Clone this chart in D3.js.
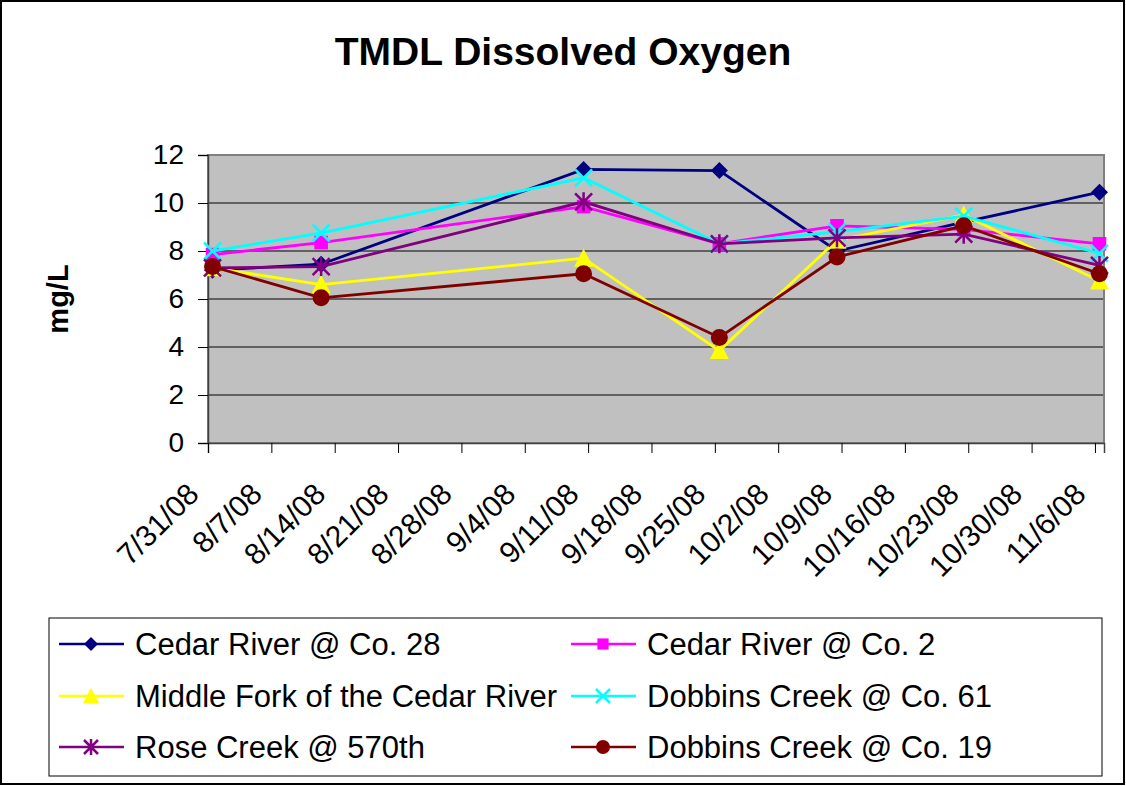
<!DOCTYPE html>
<html>
<head>
<meta charset="utf-8">
<script src="https://cdn.jsdelivr.net/npm/d3@7"></script>
<style>
  body { margin: 0; background: #fff; }
  text { font-family: "Liberation Sans", Arial, sans-serif; }
</style>
</head>
<body>
<svg id="chart" width="1126" height="786"></svg>
<script>
// sample dates and dissolved oxygen readings (mg/L)
const sampleDates = ["2008-07-31", "2008-08-12", "2008-09-10", "2008-09-25", "2008-10-08", "2008-10-22", "2008-11-06"];
const cedarCo28   = [7.2, 7.45, 11.4, 11.35, 8.0, 9.2, 10.45];
const cedarCo2    = [7.85, 8.35, 9.85, 8.3, 9.05, 8.9, 8.3];
const middleFork  = [7.3, 6.6, 7.7, 3.85, 8.45, 9.5, 6.75];
const dobbins61   = [8.0, 8.75, 11.05, 8.3, 8.8, 9.45, 7.9];
const rose570     = [7.3, 7.35, 10.05, 8.3, 8.55, 8.7, 7.4];
const dobbins19   = [7.35, 6.05, 7.05, 4.4, 7.75, 9.05, 7.05];

const seriesNames = ["Cedar River @ Co. 28", "Cedar River @ Co. 2", "Middle Fork of the Cedar River",
                     "Dobbins Creek @ Co. 61", "Rose Creek @ 570th", "Dobbins Creek @ Co. 19"];
const xTickDates = ["2008-07-31", "2008-08-07", "2008-08-14", "2008-08-21", "2008-08-28", "2008-09-04",
                    "2008-09-11", "2008-09-18", "2008-09-25", "2008-10-02", "2008-10-09", "2008-10-16",
                    "2008-10-23", "2008-10-30", "2008-11-06"];
const yTicks = [0, 2, 4, 6, 8, 10, 12];

const colors  = ["#000080", "#ff00ff", "#ffff00", "#00ffff", "#800080", "#800000"];
const markers = ["diamond", "square", "triangle", "x", "star", "circle"];

const parse = d3.utcParse("%Y-%m-%d");
const fmt = d3.utcFormat("%-m/%-d/%y");

const series = [cedarCo28, cedarCo2, middleFork, dobbins61, rose570, dobbins19].map((vals, i) => ({
  name: seriesNames[i],
  color: colors[i],
  marker: markers[i],
  points: vals.map((v, j) => ({ date: parse(sampleDates[j]), value: v }))
}));

const svg = d3.select("#chart");
const W = 1126, H = 786;
const plot = { left: 208, right: 1104, top: 155, bottom: 443 };

// outer border
svg.append("rect").attr("x", 1).attr("y", 1).attr("width", W - 3).attr("height", H - 3)
  .attr("fill", "#fff").attr("stroke", "#000").attr("stroke-width", 2);

// title
svg.append("text").attr("x", 563).attr("y", 65).attr("text-anchor", "middle")
  .attr("font-size", 39).attr("font-weight", "bold").text("TMDL Dissolved Oxygen");

const x = d3.scaleUtc()
  .domain([parse("2008-07-31"), parse("2008-11-07")])
  .range([plot.left, plot.right]);
const y = d3.scaleLinear().domain([0, 12]).range([plot.bottom, plot.top]);

// excel puts date points in the middle of their day
const px = d => x(d3.utcHour.offset(d, 12));

// plot area
svg.append("rect").attr("x", plot.left).attr("y", plot.top)
  .attr("width", plot.right - plot.left).attr("height", plot.bottom - plot.top)
  .attr("fill", "#c0c0c0").attr("stroke", "#808080").attr("stroke-width", 2);

// gridlines
svg.append("g").selectAll("line").data(yTicks.slice(1, -1)).enter().append("line")
  .attr("x1", plot.left).attr("x2", plot.right - 1)
  .attr("y1", d => y(d)).attr("y2", d => y(d))
  .attr("stroke", "#000").attr("stroke-width", 1);

// y axis
const yAxis = svg.append("g").attr("transform", `translate(${plot.left},0)`)
  .call(d3.axisLeft(y).tickValues(yTicks).tickSize(10).tickPadding(14));
yAxis.select(".domain").attr("stroke", "#404040").attr("stroke-width", 1.5);
yAxis.selectAll(".tick line").attr("stroke", "#000");
yAxis.selectAll("text").attr("font-size", 28).attr("fill", "#000")
  .attr("font-family", "Liberation Sans, Arial, sans-serif");

// x axis
const xAxis = svg.append("g").attr("transform", `translate(0,${plot.bottom})`)
  .call(d3.axisBottom(x).tickValues(xTickDates.map(parse)).tickFormat(fmt).tickSize(10));
xAxis.select(".domain").attr("stroke", "#404040").attr("stroke-width", 1.5);
xAxis.selectAll(".tick line").attr("stroke", "#000");
xAxis.selectAll("text")
  .attr("font-size", 30).attr("fill", "#000")
  .attr("font-family", "Liberation Sans, Arial, sans-serif")
  .attr("text-anchor", "end")
  .attr("dy", 0).attr("y", 0)
  .attr("transform", "translate(-8,53) rotate(-45)");

// y label
svg.append("text").attr("transform", "translate(68,299) rotate(-90)")
  .attr("text-anchor", "middle").attr("font-size", 29).attr("font-weight", "bold").text("mg/L");

function drawMarker(g, type, color, s) {
  if (type === "diamond") {
    g.append("path").attr("d", `M0,${-s}L${s},0L0,${s}L${-s},0Z`).attr("fill", color);
  } else if (type === "square") {
    g.append("rect").attr("x", -s * 0.8).attr("y", -s * 0.8)
      .attr("width", s * 1.6).attr("height", s * 1.6).attr("fill", color);
  } else if (type === "triangle") {
    g.append("path").attr("d", `M0,${-s - 1}L${s + 1},${s}L${-s - 1},${s}Z`).attr("fill", color);
  } else if (type === "x") {
    g.append("path").attr("d", `M${-s},${-s}L${s},${s}M${s},${-s}L${-s},${s}`)
      .attr("stroke", color).attr("stroke-width", 2.5);
  } else if (type === "star") {
    g.append("path").attr("d", `M${-s},${-s}L${s},${s}M${s},${-s}L${-s},${s}M0,${-s - 1}L0,${s + 1}`)
      .attr("stroke", color).attr("stroke-width", 2.5);
  } else {
    g.append("circle").attr("r", s).attr("fill", color);
  }
}

const line = d3.line().x(d => px(d.date)).y(d => y(d.value));

series.forEach(s => {
  const g = svg.append("g");
  g.append("path").datum(s.points).attr("d", line)
    .attr("fill", "none").attr("stroke", s.color).attr("stroke-width", 2.8);
  g.selectAll("g.pt").data(s.points).enter().append("g").attr("class", "pt")
    .attr("transform", d => `translate(${px(d.date)},${y(d.value)})`)
    .each(function () { drawMarker(d3.select(this), s.marker, s.color, 8.5); });
});

// legend
svg.append("rect").attr("x", 49).attr("y", 618).attr("width", 1053).attr("height", 158)
  .attr("fill", "#fff").attr("stroke", "#000").attr("stroke-width", 1);

const legCols = [59, 571];
const legRows = [644, 696, 747];
series.forEach((s, i) => {
  const lx = legCols[i % 2], ly = legRows[Math.floor(i / 2)];
  const g = svg.append("g").attr("transform", `translate(${lx},${ly})`);
  g.append("line").attr("x1", 0).attr("x2", 65).attr("stroke", s.color).attr("stroke-width", 2.5);
  drawMarker(g.append("g").attr("transform", "translate(32,0)"), s.marker, s.color, 7);
  g.append("text").attr("x", 76).attr("y", 11).attr("font-size", 31).text(s.name);
});
</script>
</body>
</html>
